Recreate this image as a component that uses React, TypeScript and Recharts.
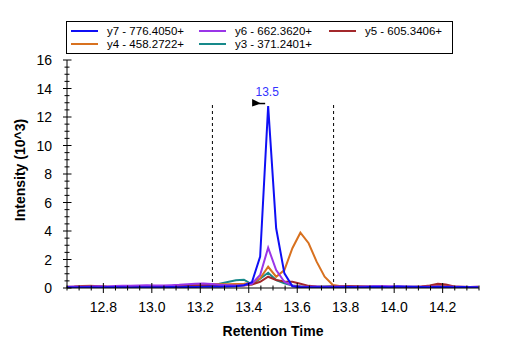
import React from 'react';
import { LineChart, Line, XAxis, YAxis, Legend, ReferenceLine, ReferenceDot } from 'recharts';

const times = [12.65, 12.68, 12.713, 12.747, 12.78, 12.813, 12.847, 12.88, 12.913, 12.947, 12.98, 13.013, 13.047, 13.08, 13.113, 13.147, 13.18, 13.213, 13.247, 13.28, 13.313, 13.347, 13.38, 13.413, 13.447, 13.48, 13.513, 13.547, 13.58, 13.613, 13.647, 13.68, 13.713, 13.747, 13.78, 13.813, 13.847, 13.88, 13.913, 13.947, 13.98, 14.013, 14.047, 14.08, 14.113, 14.147, 14.18, 14.213, 14.247, 14.28, 14.313, 14.347];

const y7 = [0.05, 0.04, 0.06, 0.05, 0.04, 0.05, 0.06, 0.05, 0.04, 0.06, 0.05, 0.05, 0.06, 0.07, 0.06, 0.08, 0.07, 0.08, 0.1, 0.09, 0.1, 0.12, 0.2, 0.4, 2.2, 12.77, 4.19, 1.03, 0.12, 0.05, 0.06, 0.05, 0.05, 0.06, 0.05, 0.07, 0.06, 0.05, 0.08, 0.07, 0.06, 0.1, 0.09, 0.08, 0.07, 0.06, 0.08, 0.07, 0.06, 0.07, 0.05, 0.06];
const y6 = [0.08, 0.1, 0.09, 0.1, 0.12, 0.1, 0.14, 0.16, 0.15, 0.18, 0.2, 0.18, 0.17, 0.2, 0.22, 0.26, 0.3, 0.32, 0.28, 0.22, 0.2, 0.18, 0.2, 0.3, 0.91, 2.83, 1.26, 0.44, 0.15, 0.1, 0.09, 0.1, 0.08, 0.09, 0.1, 0.08, 0.09, 0.1, 0.12, 0.14, 0.13, 0.12, 0.1, 0.09, 0.08, 0.09, 0.1, 0.08, 0.09, 0.08, 0.07, 0.08];
const y5 = [0.06, 0.08, 0.12, 0.14, 0.12, 0.08, 0.07, 0.08, 0.06, 0.07, 0.08, 0.09, 0.1, 0.12, 0.14, 0.16, 0.18, 0.2, 0.22, 0.2, 0.18, 0.16, 0.18, 0.25, 0.44, 0.79, 0.56, 0.45, 0.44, 0.3, 0.15, 0.1, 0.09, 0.1, 0.12, 0.14, 0.13, 0.1, 0.08, 0.07, 0.08, 0.07, 0.06, 0.07, 0.1, 0.18, 0.3, 0.25, 0.1, 0.07, 0.06, 0.07];
const y4 = [0.08, 0.1, 0.14, 0.16, 0.13, 0.1, 0.08, 0.09, 0.08, 0.1, 0.09, 0.1, 0.12, 0.14, 0.16, 0.18, 0.22, 0.26, 0.28, 0.27, 0.26, 0.28, 0.3, 0.35, 0.68, 1.49, 0.79, 1.26, 2.79, 3.88, 3.14, 1.85, 0.79, 0.21, 0.12, 0.1, 0.09, 0.08, 0.09, 0.08, 0.07, 0.08, 0.09, 0.08, 0.1, 0.14, 0.2, 0.16, 0.1, 0.08, 0.07, 0.08];
const y3 = [0.06, 0.07, 0.06, 0.08, 0.07, 0.06, 0.07, 0.08, 0.07, 0.06, 0.08, 0.09, 0.08, 0.1, 0.09, 0.1, 0.12, 0.14, 0.16, 0.3, 0.42, 0.55, 0.58, 0.25, 0.65, 1.07, 0.56, 0.33, 0.18, 0.12, 0.1, 0.09, 0.1, 0.12, 0.14, 0.1, 0.09, 0.08, 0.07, 0.08, 0.07, 0.06, 0.07, 0.06, 0.07, 0.06, 0.07, 0.06, 0.05, 0.06, 0.05, 0.06];

const seriesNames = ['y7 - 776.4050+', 'y6 - 662.3620+', 'y5 - 605.3406+', 'y4 - 458.2722+', 'y3 - 371.2401+'];
const seriesKeys = ['y7', 'y6', 'y5', 'y4', 'y3'];
const seriesColors = ['#0F0FF5', '#9A35E8', '#A3282B', '#D8711F', '#17898A'];

const xMajorTicks = [12.8, 13.0, 13.2, 13.4, 13.6, 13.8, 14.0, 14.2];
const yMajorTicks = [0, 2, 4, 6, 8, 10, 12, 14, 16];
const boundaryTimes = [13.25, 13.75];
const boundaryTop = 12.85;
const peakTime = 13.48;
const peakValue = 12.77;
const peakLabel = '13.5';

const xMinorTicks: number[] = [];
for (let i = 0; i <= 34; i++) xMinorTicks.push(Math.round((12.65 + i * 0.05) * 100) / 100);
const yMinorTicks: number[] = [];
for (let i = 0; i <= 32; i++) yMinorTicks.push(i * 0.5);

const data = times.map((t, i) => ({ t, y7: y7[i], y6: y6[i], y5: y5[i], y4: y4[i], y3: y3[i] }));

const FONT = '"Liberation Sans", Arial, sans-serif';

const isXMajor = (v: number) => xMajorTicks.some((m) => Math.abs(m - v) < 1e-6);
const isYMajor = (v: number) => yMajorTicks.some((m) => Math.abs(m - v) < 1e-6);

const XTick = (props: any) => {
  const { x, y, payload } = props;
  const v = payload.value as number;
  const major = isXMajor(v);
  const h = major ? 5 : 2.5;
  return (
    <g>
      <line x1={x} x2={x} y1={y - h} y2={y + h} stroke="#000" strokeWidth={1} />
      {major && (
        <text x={x} y={y + 19} textAnchor="middle" dominantBaseline="central" fontSize={14} fontFamily={FONT} fill="#000">
          {v.toFixed(1)}
        </text>
      )}
    </g>
  );
};

const YTick = (props: any) => {
  const { x, y, payload } = props;
  const v = payload.value as number;
  const major = isYMajor(v);
  return (
    <g>
      <line x1={major ? x - 4 : x - 2.5} x2={major ? x + 4.5 : x + 2.5} y1={y} y2={y} stroke="#000" strokeWidth={1} />
      {major && (
        <text x={x - 15} y={y} textAnchor="end" dominantBaseline="central" fontSize={14} fontFamily={FONT} fill="#000">
          {v}
        </text>
      )}
    </g>
  );
};

const legendCols = [4, 132, 262];
const legendRows = [9, 22];

const LegendBox = () => (
  <div style={{ width: 387, height: 33, border: '1px solid #000', boxSizing: 'border-box', background: '#fff' }}>
    <svg width={385} height={31} style={{ display: 'block' }}>
      {seriesNames.map((name, i) => {
        const col = i % 3;
        const row = Math.floor(i / 3);
        const lx = legendCols[col];
        const ly = legendRows[row];
        return (
          <g key={name}>
            <line x1={lx} x2={lx + 27} y1={ly} y2={ly} stroke={seriesColors[i]} strokeWidth={2} />
            <text x={lx + 36} y={ly} dominantBaseline="central" fontSize={11.5} fontFamily={FONT} fill="#000">
              {name}
            </text>
          </g>
        );
      })}
    </svg>
  </div>
);

const Flag = (props: any) => {
  const { cx, cy } = props;
  const fy = cy - 3;
  return (
    <g>
      <polygon points={`${cx - 16},${fy - 4} ${cx - 16},${fy + 3.5} ${cx - 7},${fy + 0.5}`} fill="#000" />
      <line x1={cx - 9} x2={cx - 3} y1={fy + 0.5} y2={fy + 0.5} stroke="#000" strokeWidth={1.5} />
      <text x={cx - 1} y={cy - 14} textAnchor="middle" dominantBaseline="central" fontSize={12} fontFamily={FONT} fill="#3333FF">
        {peakLabel}
      </text>
    </g>
  );
};

export default function App() {
  const order = [4, 3, 2, 1, 0];
  return (
    <div style={{ position: 'absolute', left: 0, top: 0, width: 507, height: 351, background: '#fff' }}>
      <LineChart width={507} height={351} data={data} margin={{ top: 60, right: 28, left: 27, bottom: 23 }}>
        <XAxis
          dataKey="t"
          type="number"
          domain={[12.65, 14.35]}
          allowDataOverflow
          ticks={xMinorTicks}
          interval={0}
          tickSize={0}
          tickMargin={0}
          tickLine={false}
          axisLine={{ stroke: '#000' }}
          tick={(p: any) => <XTick {...p} />}
          height={40}
          label={{
            content: () => (
              <text x={273} y={331} textAnchor="middle" dominantBaseline="central" fontSize={14} fontWeight="bold" fontFamily={FONT} fill="#000">
                Retention Time
              </text>
            ),
          }}
        />
        <YAxis
          type="number"
          domain={[0, 16]}
          allowDataOverflow
          ticks={yMinorTicks}
          interval={0}
          tickSize={0}
          tickMargin={0}
          tickLine={false}
          axisLine={{ stroke: '#000' }}
          tick={(p: any) => <YTick {...p} />}
          width={40}
          label={{
            content: () => (
              <text x={20} y={170} transform="rotate(-90 20 170)" textAnchor="middle" dominantBaseline="central" fontSize={14} fontWeight="bold" fontFamily={FONT} fill="#000">
                Intensity (10^3)
              </text>
            ),
          }}
        />
        {boundaryTimes.map((bt) => (
          <ReferenceLine
            key={bt}
            segment={[{ x: bt, y: 0 }, { x: bt, y: boundaryTop }]}
            stroke="#000"
            strokeDasharray="3 3"
            strokeWidth={1}
          />
        ))}
        {order.map((i) => (
          <Line
            key={seriesKeys[i]}
            type="linear"
            dataKey={seriesKeys[i]}
            name={seriesNames[i]}
            stroke={seriesColors[i]}
            strokeWidth={2}
            dot={false}
            activeDot={false}
            isAnimationActive={false}
          />
        ))}
        <ReferenceDot x={peakTime} y={peakValue} ifOverflow="visible" shape={(p: any) => <Flag {...p} />} />
        <Legend
          layout="horizontal"
          verticalAlign="middle"
          align="center"
          content={() => <LegendBox />}
          wrapperStyle={{ position: 'absolute', left: 66, top: 21, width: 387, height: 33 }}
        />
      </LineChart>
    </div>
  );
}
